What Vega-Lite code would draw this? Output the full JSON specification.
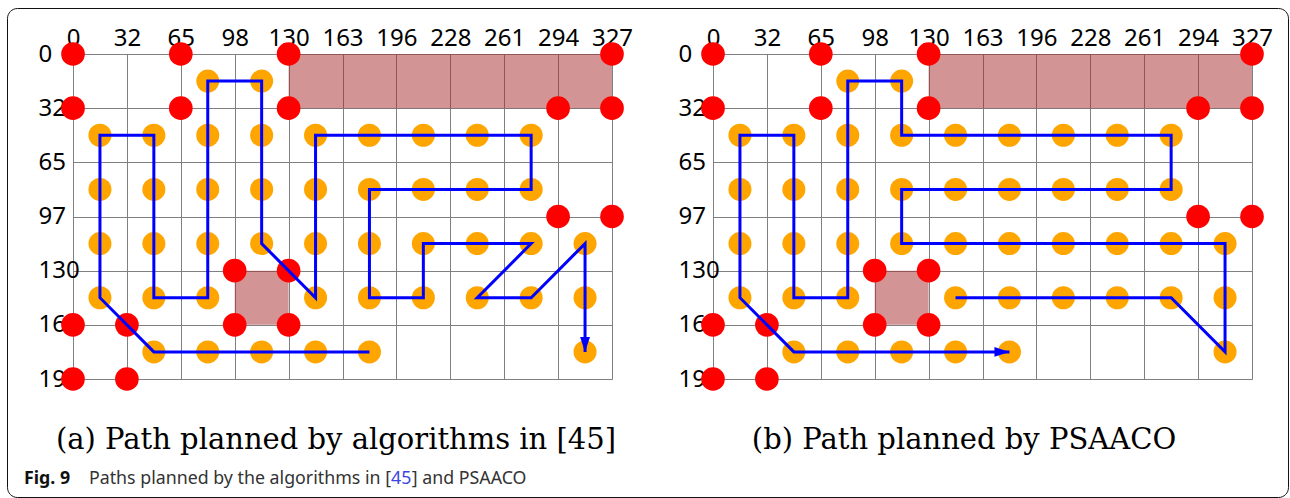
{
  "$schema": "https://vega.github.io/schema/vega-lite/v6.json",
  "padding": {"left": 7, "top": 8, "right": 0, "bottom": 0},
  "background": "white",
  "bounds": "flush",
  "spacing": 101,
  "config": {
    "view": {"stroke": null},
    "axis": {"domain": false, "ticks": false, "tickSize": 0, "grid": true, "gridColor": "#808080", "gridWidth": 1, "gridOpacity": 1, "labelFont": "Noto Sans", "labelFontSize": 24, "labelColor": "#000", "labelOverlap": false, "labelFlush": false, "labelBound": false}
  },
  "datasets": {
    "red": [
      {"x": 0, "y": 0}, {"x": 2, "y": 0}, {"x": 4, "y": 0}, {"x": 10, "y": 0},
      {"x": 0, "y": 1}, {"x": 2, "y": 1}, {"x": 4, "y": 1}, {"x": 9, "y": 1}, {"x": 10, "y": 1},
      {"x": 9, "y": 3}, {"x": 10, "y": 3},
      {"x": 3, "y": 4}, {"x": 4, "y": 4},
      {"x": 0, "y": 5}, {"x": 1, "y": 5}, {"x": 3, "y": 5}, {"x": 4, "y": 5},
      {"x": 0, "y": 6}, {"x": 1, "y": 6}
    ],
    "orange": [
      {"x": 2.5, "y": 0.5}, {"x": 3.5, "y": 0.5},
      {"x": 0.5, "y": 1.5}, {"x": 1.5, "y": 1.5}, {"x": 2.5, "y": 1.5}, {"x": 3.5, "y": 1.5}, {"x": 4.5, "y": 1.5}, {"x": 5.5, "y": 1.5}, {"x": 6.5, "y": 1.5}, {"x": 7.5, "y": 1.5}, {"x": 8.5, "y": 1.5},
      {"x": 0.5, "y": 2.5}, {"x": 1.5, "y": 2.5}, {"x": 2.5, "y": 2.5}, {"x": 3.5, "y": 2.5}, {"x": 4.5, "y": 2.5}, {"x": 5.5, "y": 2.5}, {"x": 6.5, "y": 2.5}, {"x": 7.5, "y": 2.5}, {"x": 8.5, "y": 2.5},
      {"x": 0.5, "y": 3.5}, {"x": 1.5, "y": 3.5}, {"x": 2.5, "y": 3.5}, {"x": 3.5, "y": 3.5}, {"x": 4.5, "y": 3.5}, {"x": 5.5, "y": 3.5}, {"x": 6.5, "y": 3.5}, {"x": 7.5, "y": 3.5}, {"x": 8.5, "y": 3.5}, {"x": 9.5, "y": 3.5},
      {"x": 0.5, "y": 4.5}, {"x": 1.5, "y": 4.5}, {"x": 2.5, "y": 4.5}, {"x": 4.5, "y": 4.5}, {"x": 5.5, "y": 4.5}, {"x": 6.5, "y": 4.5}, {"x": 7.5, "y": 4.5}, {"x": 8.5, "y": 4.5}, {"x": 9.5, "y": 4.5},
      {"x": 1.5, "y": 5.5}, {"x": 2.5, "y": 5.5}, {"x": 3.5, "y": 5.5}, {"x": 4.5, "y": 5.5}, {"x": 5.5, "y": 5.5}, {"x": 9.5, "y": 5.5}
    ],
    "obst": [
      {"x": 4, "x2": 10, "y": 0, "y2": 1},
      {"x": 3, "x2": 4, "y": 4, "y2": 5}
    ],
    "pathA": [
      {"i": 1, "x": 5.5, "y": 5.5}, {"i": 2, "x": 1.5, "y": 5.5}, {"i": 3, "x": 0.5, "y": 4.5}, {"i": 4, "x": 0.5, "y": 1.5},
      {"i": 5, "x": 1.5, "y": 1.5}, {"i": 6, "x": 1.5, "y": 4.5}, {"i": 7, "x": 2.5, "y": 4.5}, {"i": 8, "x": 2.5, "y": 0.5},
      {"i": 9, "x": 3.5, "y": 0.5}, {"i": 10, "x": 3.5, "y": 3.5}, {"i": 11, "x": 4.5, "y": 4.5}, {"i": 12, "x": 4.5, "y": 1.5},
      {"i": 13, "x": 8.5, "y": 1.5}, {"i": 14, "x": 8.5, "y": 2.5}, {"i": 15, "x": 5.5, "y": 2.5}, {"i": 16, "x": 5.5, "y": 4.5},
      {"i": 17, "x": 6.5, "y": 4.5}, {"i": 18, "x": 6.5, "y": 3.5}, {"i": 19, "x": 8.5, "y": 3.5}, {"i": 20, "x": 7.5, "y": 4.5},
      {"i": 21, "x": 8.5, "y": 4.5}, {"i": 22, "x": 9.5, "y": 3.5}, {"i": 23, "x": 9.5, "y": 5.5}
    ],
    "pathB": [
      {"i": 1, "x": 4.5, "y": 4.5}, {"i": 2, "x": 8.5, "y": 4.5}, {"i": 3, "x": 9.5, "y": 5.5}, {"i": 4, "x": 9.5, "y": 3.5},
      {"i": 5, "x": 3.5, "y": 3.5}, {"i": 6, "x": 3.5, "y": 2.5}, {"i": 7, "x": 8.5, "y": 2.5}, {"i": 8, "x": 8.5, "y": 1.5},
      {"i": 9, "x": 3.5, "y": 1.5}, {"i": 10, "x": 3.5, "y": 0.5}, {"i": 11, "x": 2.5, "y": 0.5}, {"i": 12, "x": 2.5, "y": 4.5},
      {"i": 13, "x": 1.5, "y": 4.5}, {"i": 14, "x": 1.5, "y": 1.5}, {"i": 15, "x": 0.5, "y": 1.5}, {"i": 16, "x": 0.5, "y": 4.5},
      {"i": 17, "x": 1.5, "y": 5.5}, {"i": 18, "x": 5.5, "y": 5.5}
    ]
  },
  "hconcat": [
    {
      "width": 539,
      "height": 325,
      "layer": [
        {
          "encoding": {
            "x": {"field": "x", "type": "quantitative", "scale": {"domain": [0, 10], "nice": false, "zero": false}, "axis": {"title": null, "orient": "top", "values": [0,1,2,3,4,5,6,7,8,9,10], "labelExpr": "[0,32,65,98,130,163,196,228,261,294,327][datum.value]", "labelPadding": 9, "labelBaseline": "alphabetic"}},
            "y": {"field": "y", "type": "quantitative", "scale": {"domain": [0, 6], "reverse": true, "nice": false, "zero": false}, "axis": {"title": null, "orient": "left", "values": [0,1,2,3,4,5,6], "labelExpr": "[0,32,65,97,130,162,195][datum.value]", "labelAlign": "left", "labelPadding": 35}}
          },
          "layer": [
            {
              "data": {"name": "obst"},
              "mark": {"type": "rect", "color": "brown", "opacity": 0.5},
              "encoding": {"x2": {"field": "x2"}, "y2": {"field": "y2"}}
            },
            {
              "data": {"name": "orange"},
              "mark": {"type": "point", "shape": "circle", "filled": true, "opacity": 1, "color": "#ffa500", "size": 530}
            },
            {
              "data": {"name": "red"},
              "mark": {"type": "point", "shape": "circle", "filled": true, "opacity": 1, "color": "#ff0000", "size": 560}
            },
            {
              "data": {"name": "pathA"},
              "mark": {"type": "line", "color": "#0000ff", "strokeWidth": 3, "strokeJoin": "miter", "strokeCap": "butt"},
              "encoding": {"order": {"field": "i"}}
            },
            {
              "data": {"name": "pathA"},
              "transform": [{"filter": "datum.i == 23"}],
              "mark": {"type": "point", "shape": "M0,0L-0.33,-1L0.33,-1Z", "filled": true, "opacity": 1, "color": "#0000ff", "size": 900}
            }
          ]
        },
        {
          "data": {"values": [{}]},
          "encoding": {
            "x": {"datum": 0, "type": "quantitative", "scale": {"domain": [0, 10], "nice": false, "zero": false}, "axis": {"title": null, "orient": "top", "values": [0,1,2,3,4,5,6,7,8,9,10], "labelExpr": "[0,32,65,98,130,163,196,228,261,294,327][datum.value]", "labelPadding": 9, "labelBaseline": "alphabetic"}},
            "y": {"datum": 0, "type": "quantitative", "scale": {"domain": [0, 6], "reverse": true, "nice": false, "zero": false}, "axis": {"title": null, "orient": "left", "values": [0,1,2,3,4,5,6], "labelExpr": "[0,32,65,97,130,162,195][datum.value]", "labelAlign": "left", "labelPadding": 35}}
          },
          "layer": [
            {
              "mark": {"type": "rect", "filled": false, "color": "#111", "strokeWidth": 1, "cornerRadius": 10},
              "encoding": {"x": {"datum": -1.2152}, "x2": {"datum": 22.551}, "y": {"datum": -0.84}, "y2": {"datum": 8.188}}
            },
            {
              "mark": {"type": "text", "text": "(a) Path planned by algorithms in [45]", "font": "DejaVu Serif", "fontSize": 29, "color": "#000", "align": "center", "baseline": "alphabetic"},
              "encoding": {"x": {"datum": 4.879}, "y": {"datum": 7.292}}
            },
            {
              "mark": {"type": "text", "text": "Fig. 9", "font": "Noto Sans", "fontWeight": "bold", "fontSize": 17.8, "color": "#111", "align": "left", "baseline": "alphabetic"},
              "encoding": {"x": {"datum": -0.909}, "y": {"datum": 7.938}}
            },
            {
              "mark": {"type": "text", "text": "Paths planned by the algorithms in [", "font": "Noto Sans", "fontSize": 17.8, "color": "#333", "align": "right", "baseline": "alphabetic"},
              "encoding": {"x": {"datum": 5.9}, "y": {"datum": 7.938}}
            },
            {
              "mark": {"type": "text", "text": "45", "font": "Noto Sans", "fontSize": 17.8, "color": "#3b45e0", "align": "left", "baseline": "alphabetic"},
              "encoding": {"x": {"datum": 5.9}, "y": {"datum": 7.938}}
            },
            {
              "mark": {"type": "text", "text": "] and PSAACO", "font": "Noto Sans", "fontSize": 17.8, "color": "#333", "align": "left", "baseline": "alphabetic"},
              "encoding": {"x": {"datum": 6.285}, "y": {"datum": 7.938}}
            }
          ]
        }
      ]
    },
    {
      "width": 539,
      "height": 325,
      "layer": [
        {
          "encoding": {
            "x": {"field": "x", "type": "quantitative", "scale": {"domain": [0, 10], "nice": false, "zero": false}, "axis": {"title": null, "orient": "top", "values": [0,1,2,3,4,5,6,7,8,9,10], "labelExpr": "[0,32,65,98,130,163,196,228,261,294,327][datum.value]", "labelPadding": 9, "labelBaseline": "alphabetic"}},
            "y": {"field": "y", "type": "quantitative", "scale": {"domain": [0, 6], "reverse": true, "nice": false, "zero": false}, "axis": {"title": null, "orient": "left", "values": [0,1,2,3,4,5,6], "labelExpr": "[0,32,65,97,130,162,195][datum.value]", "labelAlign": "left", "labelPadding": 35}}
          },
          "layer": [
            {
              "data": {"name": "obst"},
              "mark": {"type": "rect", "color": "brown", "opacity": 0.5},
              "encoding": {"x2": {"field": "x2"}, "y2": {"field": "y2"}}
            },
            {
              "data": {"name": "orange"},
              "mark": {"type": "point", "shape": "circle", "filled": true, "opacity": 1, "color": "#ffa500", "size": 530}
            },
            {
              "data": {"name": "red"},
              "mark": {"type": "point", "shape": "circle", "filled": true, "opacity": 1, "color": "#ff0000", "size": 560}
            },
            {
              "data": {"name": "pathB"},
              "mark": {"type": "line", "color": "#0000ff", "strokeWidth": 3, "strokeJoin": "miter", "strokeCap": "butt"},
              "encoding": {"order": {"field": "i"}}
            },
            {
              "data": {"name": "pathB"},
              "transform": [{"filter": "datum.i == 18"}],
              "mark": {"type": "point", "shape": "M0,0L-1,-0.33L-1,0.33Z", "filled": true, "opacity": 1, "color": "#0000ff", "size": 900}
            }
          ]
        },
        {
          "data": {"values": [{}]},
          "encoding": {
            "x": {"datum": 0, "type": "quantitative", "scale": {"domain": [0, 10], "nice": false, "zero": false}, "axis": {"title": null, "orient": "top", "values": [0,1,2,3,4,5,6,7,8,9,10], "labelExpr": "[0,32,65,98,130,163,196,228,261,294,327][datum.value]", "labelPadding": 9, "labelBaseline": "alphabetic"}},
            "y": {"datum": 0, "type": "quantitative", "scale": {"domain": [0, 6], "reverse": true, "nice": false, "zero": false}, "axis": {"title": null, "orient": "left", "values": [0,1,2,3,4,5,6], "labelExpr": "[0,32,65,97,130,162,195][datum.value]", "labelAlign": "left", "labelPadding": 35}}
          },
          "layer": [
            {
              "mark": {"type": "text", "text": "(b) Path planned by PSAACO", "font": "DejaVu Serif", "fontSize": 29, "color": "#000", "align": "center", "baseline": "alphabetic"},
              "encoding": {"x": {"datum": 4.657}, "y": {"datum": 7.292}}
            }
          ]
        }
      ]
    }
  ]
}
